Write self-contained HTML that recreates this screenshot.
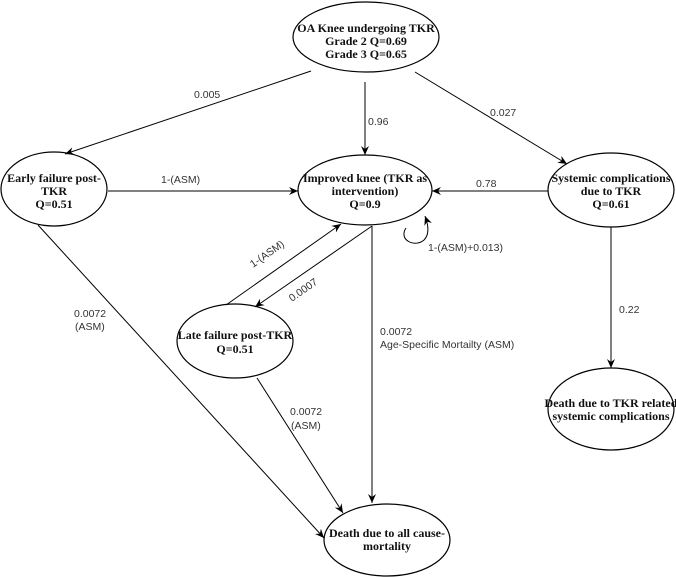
<!DOCTYPE html>
<html><head><style>body{margin:0;background:#fff}svg{display:block}
.n{font-family:"Liberation Serif",serif;font-weight:bold;font-size:12px;fill:#111;text-anchor:middle}
.e{font-family:"Liberation Sans",sans-serif;font-size:10.5px;fill:#333}
</style></head><body>
<svg width="676" height="577" viewBox="0 0 676 577">
<defs><marker id="a" markerWidth="10" markerHeight="10" refX="9" refY="5" orient="auto" markerUnits="userSpaceOnUse"><path d="M0,1 L9,5 L0,9 L3,5z" fill="#000"/></marker></defs>
<g fill="#fff" stroke="#000" stroke-width="1.2">
<ellipse cx="366" cy="37" rx="73" ry="35"/>
<ellipse cx="54" cy="189" rx="53" ry="37"/>
<ellipse cx="365" cy="190" rx="67" ry="35"/>
<ellipse cx="611" cy="190" rx="63" ry="37"/>
<ellipse cx="235" cy="341" rx="58" ry="37"/>
<ellipse cx="387" cy="540" rx="63" ry="36"/>
<ellipse cx="611" cy="409" rx="63" ry="41"/>
</g>
<g stroke="#000" stroke-width="1" fill="none" marker-end="url(#a)">
<line x1="311" y1="71" x2="65" y2="154"/>
<line x1="365" y1="82" x2="365" y2="155"/>
<line x1="415" y1="72" x2="567" y2="164"/>
<line x1="108" y1="191" x2="298" y2="191"/>
<line x1="548" y1="191" x2="432" y2="191"/>
<path d="M406,228 C398,240 415,248 424,240 C430,234 428,224 425,216"/>
<line x1="226" y1="305" x2="341" y2="224"/>
<line x1="372" y1="226" x2="255" y2="307"/>
<line x1="372" y1="226" x2="372" y2="503"/>
<line x1="38" y1="225" x2="324" y2="538"/>
<line x1="257" y1="378" x2="343" y2="513"/>
<line x1="611" y1="227" x2="611" y2="368"/>
</g>
<text class="n" x="366" y="32">OA Knee undergoing TKR</text>
<text class="n" x="366" y="45">Grade 2 Q=0.69</text>
<text class="n" x="366" y="58">Grade 3 Q=0.65</text>
<text class="n" x="54" y="182">Early failure post-</text>
<text class="n" x="54" y="195">TKR</text>
<text class="n" x="54" y="208">Q=0.51</text>
<text class="n" x="365" y="182">Improved knee (TKR as</text>
<text class="n" x="365" y="195">intervention)</text>
<text class="n" x="365" y="208">Q=0.9</text>
<text class="n" x="611" y="182">Systemic complications</text>
<text class="n" x="611" y="195">due to TKR</text>
<text class="n" x="611" y="208">Q=0.61</text>
<text class="n" x="235" y="339">Late failure post-TKR</text>
<text class="n" x="235" y="353">Q=0.51</text>
<text class="n" x="387" y="537">Death due to all cause-</text>
<text class="n" x="387" y="550">mortality</text>
<text class="n" x="611" y="407">Death due to TKR related</text>
<text class="n" x="611" y="420">systemic complications</text>
<text class="e" x="194" y="98">0.005</text>
<text class="e" x="368" y="125">0.96</text>
<text class="e" x="490" y="116">0.027</text>
<text class="e" x="161" y="183">1-(ASM)</text>
<text class="e" x="476" y="187">0.78</text>
<text class="e" x="428" y="251">1-(ASM)+0.013)</text>
<text class="e" x="0" y="0" transform="translate(253,268) rotate(-35)">1-(ASM)</text>
<text class="e" x="0" y="0" transform="translate(292,302) rotate(-35)">0.0007</text>
<text class="e" x="380" y="335">0.0072</text>
<text class="e" x="380" y="348">Age-Specific Mortailty (ASM)</text>
<text class="e" x="74" y="317">0.0072</text>
<text class="e" x="75" y="330">(ASM)</text>
<text class="e" x="290" y="415">0.0072</text>
<text class="e" x="291" y="429">(ASM)</text>
<text class="e" x="619" y="313">0.22</text>
</svg>
</body></html>
